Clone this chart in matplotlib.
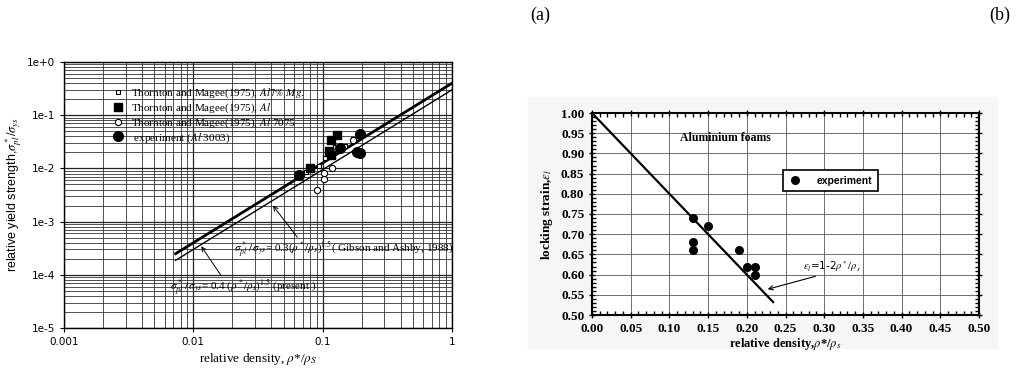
import matplotlib
matplotlib.use("Agg")
import matplotlib.pyplot as plt
import matplotlib.ticker as mticker
from matplotlib.patches import Rectangle
import numpy as np

plt.rcParams['mathtext.fontset'] = 'stix'

# (a) log-log data
mg_x = [0.0745, 0.094, 0.104, 0.111, 0.125, 0.149, 0.173]
mg_y = [0.0087, 0.011, 0.016, 0.0205, 0.0255, 0.026, 0.035]
al_x = [0.080, 0.111, 0.116, 0.117, 0.129]
al_y = [0.0103, 0.021, 0.034, 0.018, 0.042]
al7075_x = [0.090, 0.103, 0.103, 0.119, 0.173]
al7075_y = [0.0039, 0.0062, 0.0081, 0.0100, 0.034]
exp_a_x = [0.066, 0.135, 0.184, 0.193, 0.193]
exp_a_y = [0.0075, 0.0237, 0.0205, 0.0195, 0.045]
fit_x = [0.0073, 1.0]
coef_present = 0.4
coef_gibson = 0.3

# (b) locking strain data
exp_b_x = [0.13, 0.13, 0.13, 0.15, 0.19, 0.20, 0.21, 0.21]
exp_b_y = [0.74, 0.68, 0.66, 0.72, 0.66, 0.62, 0.62, 0.60]
lock_x = [0.0, 0.234]

fig = plt.figure(figsize=(10.28, 3.72), dpi=100)
bg = Rectangle((528 / 1028, 1 - 348 / 372), 469 / 1028, 251 / 372,
               transform=fig.transFigure, color='#f6f6f6', zorder=-5)
fig.add_artist(bg)

# ---------------- (a) ----------------
ax1 = fig.add_axes([64 / 1028, 1 - 328 / 372, 388 / 1028, 266 / 372])
ax1.set_xscale('log')
ax1.set_yscale('log')
ax1.set_xlim(0.001, 1)
ax1.set_ylim(1e-5, 1)
ax1.grid(True, which='major', color='#222222', lw=0.9)
ax1.grid(True, which='minor', color='#333333', lw=0.6)
ax1.xaxis.set_minor_locator(mticker.LogLocator(base=10, subs=np.arange(2, 10), numticks=20))
ax1.yaxis.set_minor_locator(mticker.LogLocator(base=10, subs=np.arange(2, 10), numticks=20))
ax1.xaxis.set_minor_formatter(mticker.NullFormatter())
ax1.yaxis.set_minor_formatter(mticker.NullFormatter())
ax1.set_xticks([0.001, 0.01, 0.1, 1])
ax1.set_xticklabels(['0.001', '0.01', '0.1', '1'])
ax1.set_yticks([1e-5, 1e-4, 1e-3, 1e-2, 1e-1, 1])
ax1.set_yticklabels(['1e-5', '1e-4', '1e-3', '1e-2', '1e-1', '1e+0'])
ax1.tick_params(which='both', labelsize=7.5, length=3)
ax1.tick_params(which='minor', length=0)
for s in ax1.spines.values():
    s.set_linewidth(1.0)

fx = np.array(fit_x)
ax1.plot(fx, coef_present * fx ** 1.5, color='black', lw=2.0)
ax1.plot(fx, coef_gibson * fx ** 1.5, color='black', lw=1.0)

ax1.plot(mg_x, mg_y, 's', ms=3.5, mfc='white', mec='black', mew=0.8,
         label=r'Thornton and Magee(1975), $\it{Al7\%\ Mg.}$')
ax1.plot(al_x, al_y, 's', ms=6, color='black',
         label=r'Thornton and Magee(1975), $\it{Al}$')
ax1.plot(al7075_x, al7075_y, 'o', ms=4.5, mfc='white', mec='black', mew=0.8,
         label=r'Thornton and Magee(1975), $\it{Al}$ 7075')
ax1.plot(exp_a_x, exp_a_y, 'o', ms=7, color='black',
         label=r' experiment ($\it{Al}$ 3003)')
ax1.legend(loc='upper left', bbox_to_anchor=(0.1, 0.945), frameon=False,
           prop={'family': 'Liberation Serif', 'size': 8},
           handletextpad=0.6, labelspacing=0.12, handlelength=1.0)

ax1.annotate(r'$\sigma^*_{pl}\,/\,\sigma_{ys}$= 0.3($\rho^*/\rho_s$)$^{1.5}$( Gibson and Ashby, 1988)',
             xy=(0.040, 0.0022), xytext=(0.0205, 2.9e-4), fontsize=8,
             family='Liberation Serif', va='center',
             arrowprops=dict(arrowstyle='->', color='black', lw=0.7, shrinkA=0,
                             relpos=(0.3, 1.0)))
ax1.annotate(r'$\sigma^*_{pl}\,/\,\sigma_{ys}$= 0.4 ($\rho^*/\rho_s$)$^{1.5}$ (present )',
             xy=(0.0112, 3.8e-4), xytext=(0.0066, 5.6e-5), fontsize=8,
             family='Liberation Serif', va='center',
             arrowprops=dict(arrowstyle='->', color='black', lw=0.7, shrinkA=0,
                             relpos=(0.36, 1.0)))

ax1.set_xlabel(r'relative density, $\rho$*/$\rho_S$', family='Liberation Serif',
               fontsize=9.5, labelpad=3)
ax1.set_ylabel(r'relative yield strength,$\sigma^*_{pl}/\sigma_{ys}$',
               family='Liberation Sans', fontsize=9, labelpad=2)

# ---------------- (b) ----------------
ax2 = fig.add_axes([592 / 1028, 1 - 315 / 372, 387 / 1028, 202 / 372])
ax2.set_facecolor('white')
ax2.set_xlim(0, 0.5)
ax2.set_ylim(0.5, 1.0)
ax2.set_xticks(np.arange(0, 0.501, 0.05))
ax2.set_yticks(np.arange(0.5, 1.001, 0.05))
ax2.xaxis.set_minor_locator(mticker.MultipleLocator(0.01))
ax2.yaxis.set_minor_locator(mticker.MultipleLocator(0.01))
ax2.xaxis.set_major_formatter(mticker.FormatStrFormatter('%.2f'))
ax2.yaxis.set_major_formatter(mticker.FormatStrFormatter('%.2f'))
ax2.grid(True, which='major', color='#555555', lw=0.6)
ax2.tick_params(which='both', direction='inout', top=True, right=True)
ax2.tick_params(which='major', length=5, width=1, pad=3)
ax2.tick_params(which='minor', length=3, width=1, direction='in')
for lbl in ax2.get_xticklabels() + ax2.get_yticklabels():
    lbl.set_family('Liberation Serif')
    lbl.set_fontweight('bold')
    lbl.set_fontsize(9.5)
for s in ax2.spines.values():
    s.set_linewidth(1.5)

lx = np.array(lock_x)
ax2.plot(lx, 1 - 2 * lx, color='black', lw=1.6)
ax2.plot(exp_b_x, exp_b_y, 'o', ms=5.5, color='black', label='experiment')
leg = ax2.legend(loc='upper left', bbox_to_anchor=(0.494, 0.718), fancybox=False,
                 shadow=False, edgecolor='black', framealpha=1,
                 prop={'family': 'Liberation Sans', 'weight': 'bold', 'size': 7.5},
                 handlelength=1.2, borderpad=0.55, handletextpad=1.5,
                 borderaxespad=0)
leg.get_frame().set_linewidth(1.2)

ax2.text(0.114, 0.938, 'Aluminium foams', family='Liberation Serif', fontweight='bold',
         fontsize=8.5, va='center')
ax2.annotate(r'$\varepsilon_l$=1-2$\rho^*/\rho_s$', xy=(0.2235, 0.562), xytext=(0.272, 0.621),
             fontsize=7.5, va='center',
             arrowprops=dict(arrowstyle='->', color='black', lw=0.8, shrinkA=0,
                             relpos=(0.4, 0.0)))

ax2.set_xlabel(r'relative density,$\rho$*/$\rho_s$', family='Liberation Serif',
               fontweight='bold', fontsize=9, labelpad=1)
ax2.set_ylabel(r'locking strain,$\varepsilon_l$', family='Liberation Serif',
               fontweight='bold', fontsize=9.5, labelpad=4)

fig.text(540 / 1028, 1 - 15 / 372, '(a)', family='Liberation Serif', fontsize=13,
         ha='center', va='center')
fig.text(1000 / 1028, 1 - 15 / 372, '(b)', family='Liberation Serif', fontsize=13,
         ha='center', va='center')

fig.savefig('out.png', dpi=100)
